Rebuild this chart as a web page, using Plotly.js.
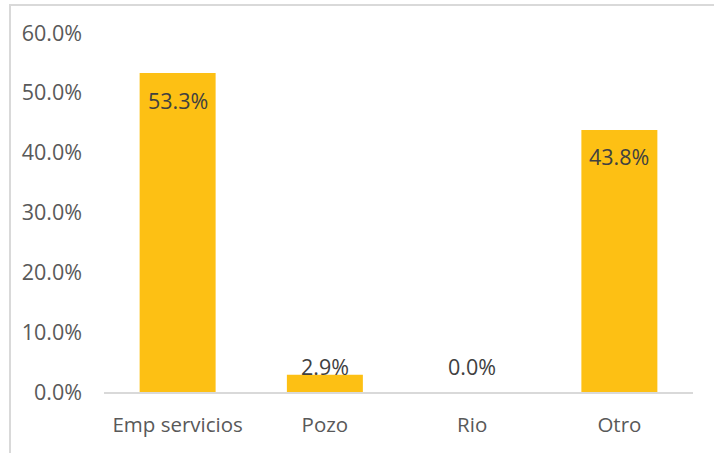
<!DOCTYPE html>
<html>
<head>
<meta charset="utf-8">
<script src="https://cdn.plot.ly/plotly-3.0.1.min.js"></script>
<style>
  html, body { margin: 0; padding: 0; background: #ffffff; }
  #wrap { position: relative; width: 714px; height: 453px; overflow: hidden; }
  #chart { position: absolute; left: 0; top: 0; width: 714px; height: 453px; }
  #frame { position: absolute; left: 9px; top: 4px; width: 720px; height: 460px;
           border-left: 2px solid #d9d9d9; border-top: 2px solid #d9d9d9; pointer-events: none; }
</style>
</head>
<body>
<div id="wrap">
  <div id="chart"></div>
  <div id="frame"></div>
</div>
<script>
const categories = ["Emp servicios", "Pozo", "Rio", "Otro"];
const values = [53.3, 2.9, 0.0, 43.8];
const tickValues = [0, 10, 20, 30, 40, 50, 60];
const tickLabels = ["0.0%", "10.0%", "20.0%", "30.0%", "40.0%", "50.0%", "60.0%"];

const FONT = "Open Sans, sans-serif";
const plotH = 453 - 33 - 60.5;
const pxPerUnit = plotH / 60;

const annotations = values.map((v, i) => {
  const inside = v * pxPerUnit > 40;
  return {
    x: categories[i], y: inside ? v : 0, xref: "x", yref: "y",
    text: v.toFixed(1) + "%", showarrow: false,
    yanchor: "middle", xanchor: "center",
    yshift: inside ? -27 : 25.5,
    font: { family: FONT, size: 21.5, color: "#404040" }
  };
});

const trace = {
  type: "bar",
  x: categories,
  y: values,
  marker: { color: "#FDC014", line: { width: 0 } },
  hoverinfo: "none"
};

const layout = {
  width: 714, height: 453,
  margin: { l: 104, r: 21, t: 33, b: 60.5, pad: 0 },
  paper_bgcolor: "rgba(0,0,0,0)",
  plot_bgcolor: "rgba(0,0,0,0)",
  showlegend: false,
  bargap: 0.484,
  xaxis: {
    type: "category",
    showgrid: false, zeroline: false,
    showline: true, linecolor: "#d9d9d9", linewidth: 2,
    ticks: "", ticklabelstandoff: 13,
    tickfont: { family: FONT, size: 20.5, color: "#595959" },
    fixedrange: true
  },
  yaxis: {
    range: [0, 60],
    tickvals: tickValues, ticktext: tickLabels,
    showgrid: false, zeroline: false, showline: false,
    ticks: "", ticklabelstandoff: 21,
    tickfont: { family: FONT, size: 21.5, color: "#595959" },
    fixedrange: true
  },
  annotations: annotations
};

Plotly.newPlot("chart", [trace], layout, { displayModeBar: false, staticPlot: true });
</script>
</body>
</html>
